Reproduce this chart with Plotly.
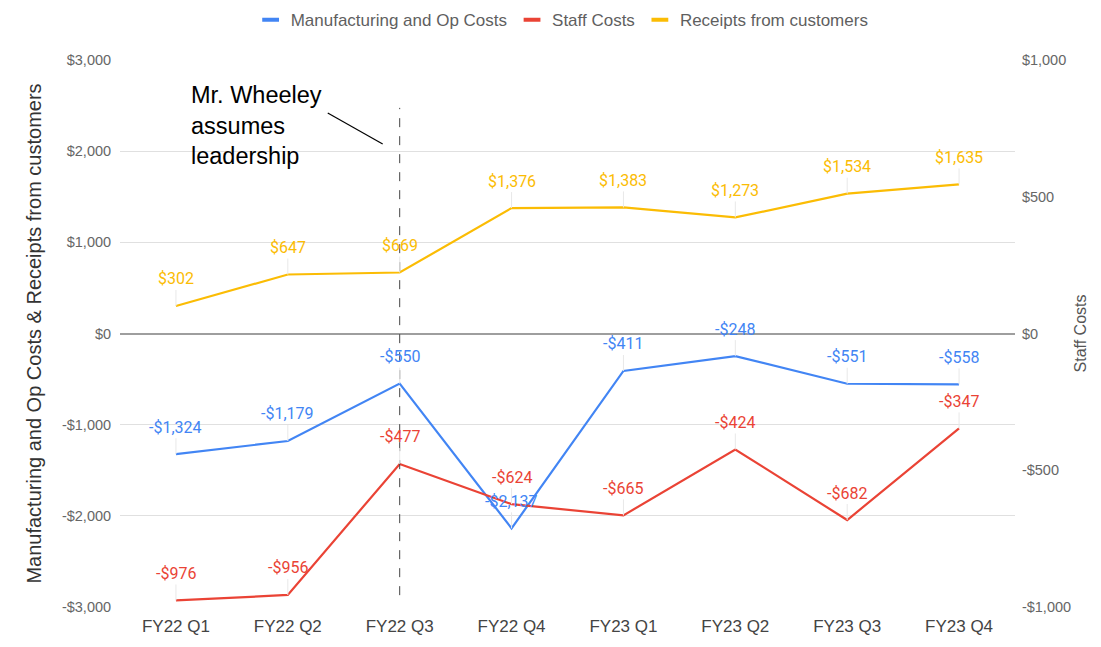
import plotly.graph_objects as go

categories = ["FY22 Q1", "FY22 Q2", "FY22 Q3", "FY22 Q4", "FY23 Q1", "FY23 Q2", "FY23 Q3", "FY23 Q4"]
manufacturing = [-1324, -1179, -550, -2137, -411, -248, -551, -558]
staff = [-976, -956, -477, -624, -665, -424, -682, -347]
receipts = [302, 647, 669, 1376, 1383, 1273, 1534, 1635]

left_ticks = [-3000, -2000, -1000, 0, 1000, 2000, 3000]
right_ticks = [-1000, -500, 0, 500, 1000]

BLUE = "#4285F4"
RED = "#EA4335"
YELLOW = "#FBBC04"
FONT = "Arial, Liberation Sans, sans-serif"
LABEL_FONT = "Roboto, Arial, sans-serif"


def money(v):
    s = "${:,.0f}".format(abs(v))
    return "-" + s if v < 0 else s


series = [
    ("Manufacturing and Op Costs", manufacturing, BLUE, "y"),
    ("Staff Costs", staff, RED, "y2"),
    ("Receipts from customers", receipts, YELLOW, "y"),
]

fig = go.Figure()

for name, vals, color, yax in series:
    fig.add_trace(go.Scatter(
        x=categories, y=vals, mode="lines", name=name, yaxis=yax,
        line=dict(color=color, width=2.2), showlegend=False, hoverinfo="skip"))

for name, vals, color, yax in series:
    fig.add_trace(go.Scatter(
        x=[None], y=[None], mode="markers", name=name,
        marker=dict(symbol="line-ew", size=12, color=color,
                    line=dict(color=color, width=4)),
        showlegend=True, hoverinfo="skip"))

annotations = []
for name, vals, color, yax in series:
    for c, v in zip(categories, vals):
        annotations.append(dict(
            x=c, y=v, xref="x", yref=yax, text=money(v),
            showarrow=True, arrowhead=0, arrowwidth=1, arrowcolor="#e8e8e8",
            ax=0, ay=-27, standoff=0,
            font=dict(family=LABEL_FONT, size=16, color=color)))

annotations.append(dict(
    x=0.113, y=2780, xref="x", yref="y", xanchor="left", yanchor="top",
    text="Mr. Wheeley<br>assumes<br>leadership", align="left", showarrow=False,
    font=dict(family=FONT, size=23.5, color="#000000")))

fig.update_layout(
    width=1093, height=639,
    margin=dict(l=112, r=86, t=52, b=40),
    paper_bgcolor="white", plot_bgcolor="white",
    annotations=annotations,
    shapes=[
        dict(type="line", xref="x", yref="y", x0=categories[2], x1=categories[2],
             y0=-2870, y1=2475, line=dict(color="#444444", width=1, dash="dash")),
        dict(type="line", xref="x", yref="y", x0=1.357, y0=2419, x1=1.848, y1=2079,
             line=dict(color="#000000", width=1.2)),
    ],
    legend=dict(orientation="h", x=0.494, xanchor="center", y=0.981, yanchor="middle",
                yref="container", font=dict(family=FONT, size=17, color="#5f5f5f"),
                bgcolor="rgba(0,0,0,0)"),
    xaxis=dict(
        type="category", range=[-0.5, len(categories) - 0.5], autorange=False,
        automargin=False, showgrid=False, zeroline=False, showline=False,
        tickfont=dict(family=FONT, size=17, color="#444444"),
        ticks="outside", ticklen=4, tickcolor="rgba(0,0,0,0)"),
    yaxis=dict(
        range=[-3000, 3000], autorange=False, automargin=False,
        tickvals=left_ticks, ticktext=[money(v) for v in left_ticks],
        showgrid=True, gridcolor="#e0e0e0", gridwidth=1,
        zeroline=True, zerolinecolor="#9e9e9e", zerolinewidth=2,
        tickfont=dict(family=FONT, size=14.5, color="#666666"),
        ticks="outside", ticklen=5, tickcolor="rgba(0,0,0,0)",
        title=dict(text="Manufacturing and Op Costs & Receipts from customers",
                   font=dict(family=FONT, size=20, color="#333333"), standoff=14)),
    yaxis2=dict(
        range=[-1000, 1000], autorange=False, automargin=False,
        tickvals=right_ticks, ticktext=[money(v) for v in right_ticks],
        overlaying="y", side="right", showgrid=False, zeroline=False,
        tickfont=dict(family=FONT, size=14.5, color="#666666"),
        ticks="outside", ticklen=3, tickcolor="rgba(0,0,0,0)",
        title=dict(text="Staff Costs", font=dict(family=FONT, size=16, color="#555555"),
                   standoff=4)),
    hovermode=False,
)

fig.write_html("out.html")
